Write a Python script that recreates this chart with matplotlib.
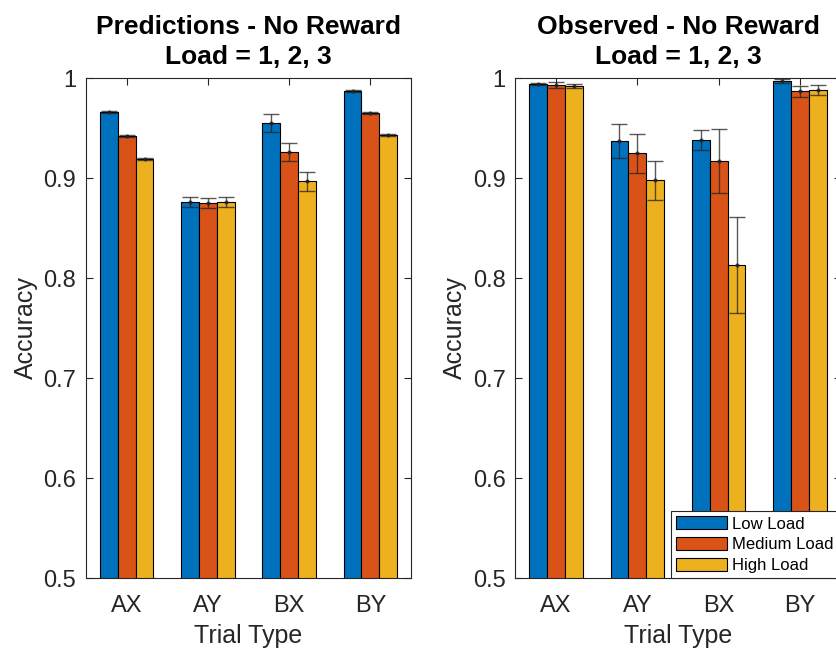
import numpy as np
import matplotlib
matplotlib.use("Agg")
import matplotlib.pyplot as plt

plt.rcParams['font.family'] = ['Liberation Sans', 'DejaVu Sans']

trial_types = ["AX", "AY", "BX", "BY"]
loads = ["Low Load", "Medium Load", "High Load"]
colors = ["#0072BD", "#D95319", "#EDB120"]

# model predictions, rows = load, columns = trial type
pred_mean = np.array([
    [0.966, 0.876, 0.955, 0.987],
    [0.942, 0.875, 0.926, 0.965],
    [0.919, 0.876, 0.897, 0.943],
])
pred_err = np.array([
    [0.001, 0.005, 0.009, 0.001],
    [0.001, 0.005, 0.009, 0.001],
    [0.001, 0.005, 0.0095, 0.001],
])

# observed data
obs_mean = np.array([
    [0.994, 0.937, 0.938, 0.997],
    [0.993, 0.925, 0.917, 0.987],
    [0.992, 0.898, 0.813, 0.988],
])
obs_err = np.array([
    [0.001, 0.017, 0.010, 0.002],
    [0.003, 0.0195, 0.032, 0.0055],
    [0.002, 0.0195, 0.048, 0.005],
])

fig = plt.figure(figsize=(8.36, 6.51), dpi=100)
ax1 = fig.add_axes([0.1029, 0.1121, 0.3888, 0.768])
ax2 = fig.add_axes([0.6166, 0.1121, 0.3888, 0.768])

width = 0.22
x = np.arange(1, len(trial_types) + 1)


def grouped_bars(ax, means, errs, title):
    handles = []
    for i in range(len(loads)):
        pos = x + (i - 1) * width
        h = ax.bar(pos, means[i], width, color=colors[i], edgecolor="black",
                   linewidth=0.8, label=loads[i], zorder=2)
        handles.append(h)
        ax.errorbar(pos, means[i], yerr=errs[i], fmt=".", color="#222222",
                    markersize=4, elinewidth=1, capsize=6, capthick=1,
                    alpha=0.75, zorder=3)
    ax.set_xlim(0.5, 4.5)
    ax.set_ylim(0.5, 1.0)
    ax.set_xticks(x)
    ax.set_xticklabels(trial_types)
    ax.set_yticks([0.5, 0.6, 0.7, 0.8, 0.9, 1.0])
    ax.set_yticklabels(["0.5", "0.6", "0.7", "0.8", "0.9", "1"])
    ax.tick_params(direction="in", length=5, width=0.8, labelsize=17,
                   colors="#262626", top=True, right=True)
    ax.tick_params(axis="x", pad=12)
    ax.tick_params(axis="y", pad=7)
    for s in ax.spines.values():
        s.set_color("#262626")
        s.set_linewidth(0.8)
    ax.set_xlabel("Trial Type", fontsize=18, color="#262626", labelpad=5)
    ax.set_ylabel("Accuracy", fontsize=18, color="#262626", labelpad=4)
    ax.set_title(title, fontsize=19, fontweight="bold", pad=10,
                 linespacing=1.3)
    return handles


grouped_bars(ax1, pred_mean, pred_err, "Predictions - No Reward\nLoad = 1, 2, 3")
handles = grouped_bars(ax2, obs_mean, obs_err, "Observed - No Reward\nLoad = 1, 2, 3")

leg = ax2.legend(handles, loads, loc="lower left", bbox_to_anchor=(0.477, 0.0),
                 borderaxespad=0, fontsize=12, frameon=True, fancybox=False,
                 framealpha=1, handlelength=3.1, handleheight=0.85,
                 handletextpad=0.3, labelspacing=0.32, borderpad=0.3)
leg.get_frame().set_edgecolor("#262626")
leg.get_frame().set_linewidth(0.8)

fig.savefig("out.png", dpi=100)
